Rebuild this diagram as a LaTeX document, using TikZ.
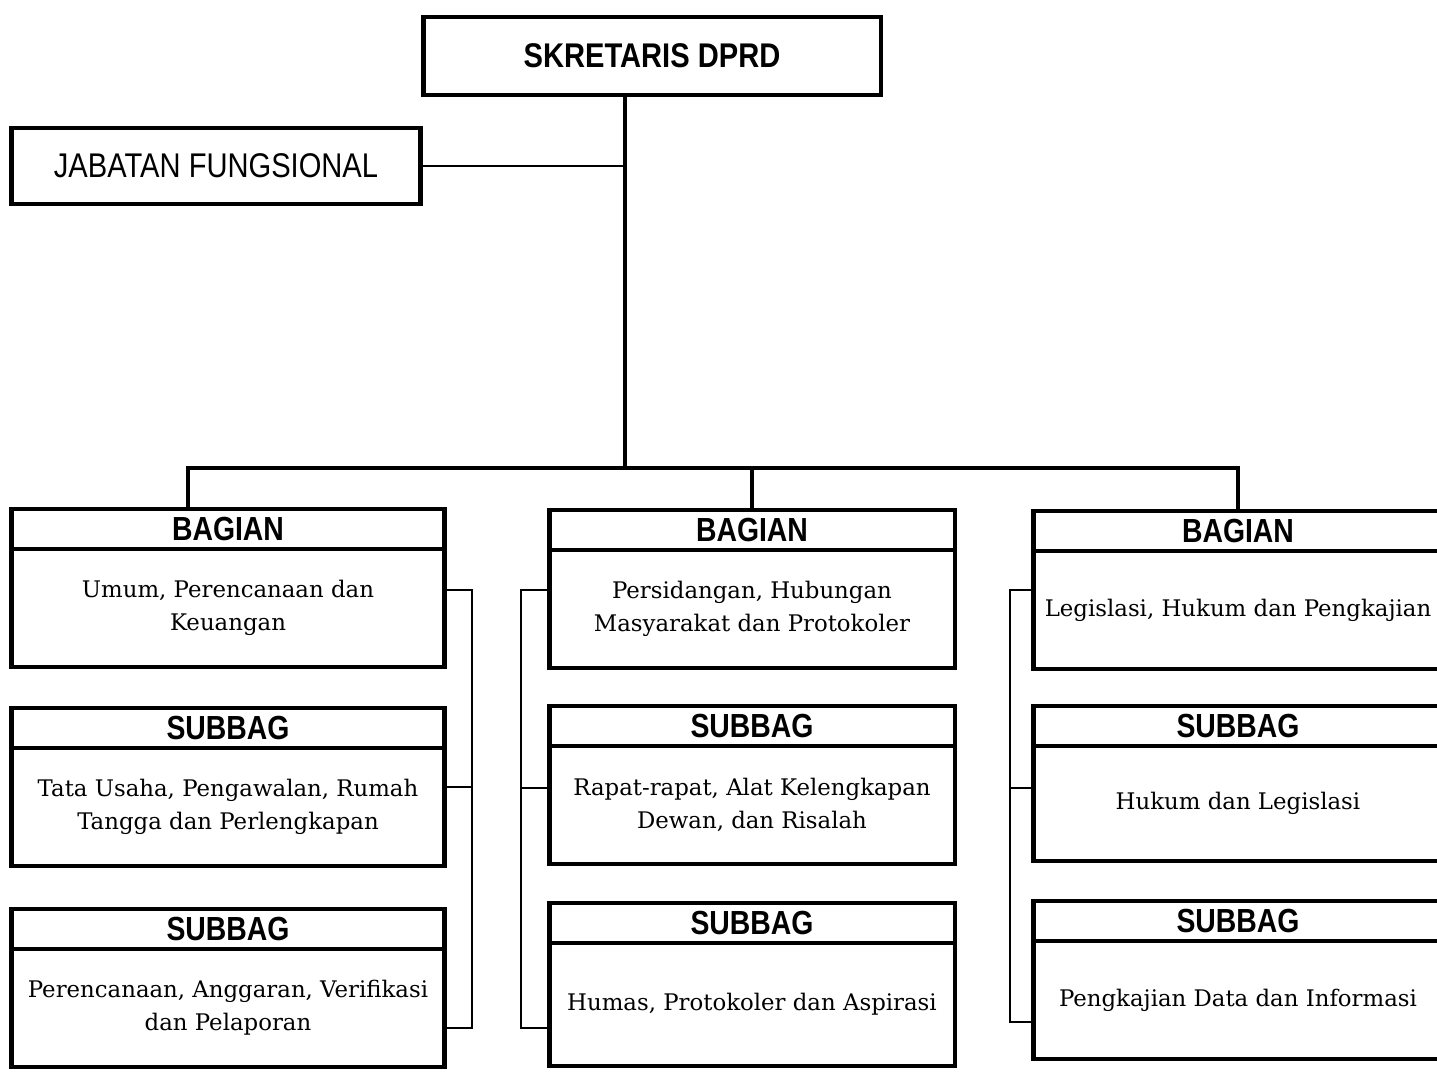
\documentclass[tikz,border=0pt]{standalone}
\usepackage{fontspec}
\setmainfont{DejaVu Serif}
\newfontfamily\headfont[FakeStretch=0.85]{Liberation Sans}
\usetikzlibrary{positioning}

\begin{document}
\begin{tikzpicture}[
            x=0.02cm, y=-0.02cm,
            node distance=0pt,
            frame/.style={
                draw,
                line width=2.8pt,
                outer sep=0pt
            },
            headbox/.style={
                frame,
                minimum height=0.8cm,
                inner sep=0pt,
                font=\headfont\bfseries\fontsize{19}{21}\selectfont
            },
            bodybox/.style={
                frame,
                minimum height=2.36cm,
                inner sep=2pt,
                align=center,
                font=\fontsize{13}{18.7}\selectfont
            },
            bus/.style={line width=2.8pt},
            tie/.style={line width=1.4pt}
        ]

            \useasboundingbox (0,0) rectangle (1437,1073);

            \node[frame, minimum width=9.16cm, minimum height=1.56cm,
                font=\headfont\bfseries\fontsize{19.5}{21}\selectfont]
                (sek) at (652, 56) {SKRETARIS DPRD};
            \node[frame, minimum width=8.18cm, minimum height=1.52cm,
                font=\headfont\fontsize{19.5}{21}\selectfont]
                (jab) at (216, 166) {JABATAN FUNGSIONAL};

            % kolom kiri
            \node[headbox, minimum width=8.66cm] (b1h) at (228, 529) {BAGIAN};
            \node[bodybox, minimum width=8.66cm, below=of b1h] (b1)
                {Umum, Perencanaan dan\\Keuangan};
            \node[headbox, minimum width=8.66cm] (s11h) at (228, 728) {SUBBAG};
            \node[bodybox, minimum width=8.66cm, below=of s11h] (s11)
                {Tata Usaha, Pengawalan, Rumah\\Tangga dan Perlengkapan};
            \node[headbox, minimum width=8.66cm] (s12h) at (228, 929) {SUBBAG};
            \node[bodybox, minimum width=8.66cm, below=of s12h] (s12)
                {Perencanaan, Anggaran, Verifikasi\\dan Pelaporan};

            % kolom tengah
            \node[headbox, minimum width=8.12cm] (b2h) at (752, 530) {BAGIAN};
            \node[bodybox, minimum width=8.12cm, below=of b2h] (b2)
                {Persidangan, Hubungan\\Masyarakat dan Protokoler};
            \node[headbox, minimum width=8.12cm] (s21h) at (752, 726) {SUBBAG};
            \node[bodybox, minimum width=8.12cm, below=of s21h] (s21)
                {Rapat-rapat, Alat Kelengkapan\\Dewan, dan Risalah};
            \node[headbox, minimum width=8.12cm] (s22h) at (752, 923) {SUBBAG};
            \node[bodybox, minimum width=8.12cm, minimum height=2.46cm, below=of s22h] (s22)
                {Humas, Protokoler dan Aspirasi};

            % kolom kanan
            \node[headbox, minimum width=8.2cm] (b3h) at (1238, 531) {BAGIAN};
            \node[bodybox, minimum width=8.2cm, below=of b3h] (b3)
                {Legislasi, Hukum dan Pengkajian};
            \node[headbox, minimum width=8.2cm] (s31h) at (1238, 726) {SUBBAG};
            \node[bodybox, minimum width=8.2cm, minimum height=2.3cm, below=of s31h] (s31)
                {Hukum dan Legislasi};
            \node[headbox, minimum width=8.2cm] (s32h) at (1238, 921) {SUBBAG};
            \node[bodybox, minimum width=8.2cm, below=of s32h] (s32)
                {Pengkajian Data dan Informasi};

            \coordinate (hub) at (625, 468);
            \coordinate (d1) at (188, 468);
            \coordinate (d2) at (752, 468);
            \coordinate (d3) at (1238, 468);

            \draw[bus] (sek.south -| hub) -- (hub);
            \draw[line width=1.1pt] (jab.east) -- (jab.east -| hub);
            \draw[bus] (d1 |- b1h.north) -- (d1) -- (d3) -- (d3 |- b3h.north);
            \draw[bus] (d2) -- (d2 |- b2h.north);

            \coordinate (r1a) at (472, 590);
            \coordinate (r1b) at (472, 787);
            \coordinate (r1c) at (472, 1028);
            \draw[tie] (r1a -| b1.east) -- (r1a) -- (r1c) -- (r1c -| s12.east);
            \draw[tie] (r1b -| s11.east) -- (r1b);

            \coordinate (r2a) at (521, 590);
            \coordinate (r2b) at (521, 788);
            \coordinate (r2c) at (521, 1028);
            \draw[tie] (r2a -| b2.west) -- (r2a) -- (r2c) -- (r2c -| s22.west);
            \draw[tie] (r2b -| s21.west) -- (r2b);

            \coordinate (r3a) at (1010, 590);
            \coordinate (r3b) at (1010, 788);
            \coordinate (r3c) at (1010, 1022);
            \draw[tie] (r3a -| b3.west) -- (r3a) -- (r3c) -- (r3c -| s32.west);
            \draw[tie] (r3b -| s31.west) -- (r3b);

        \end{tikzpicture}
\end{document}
